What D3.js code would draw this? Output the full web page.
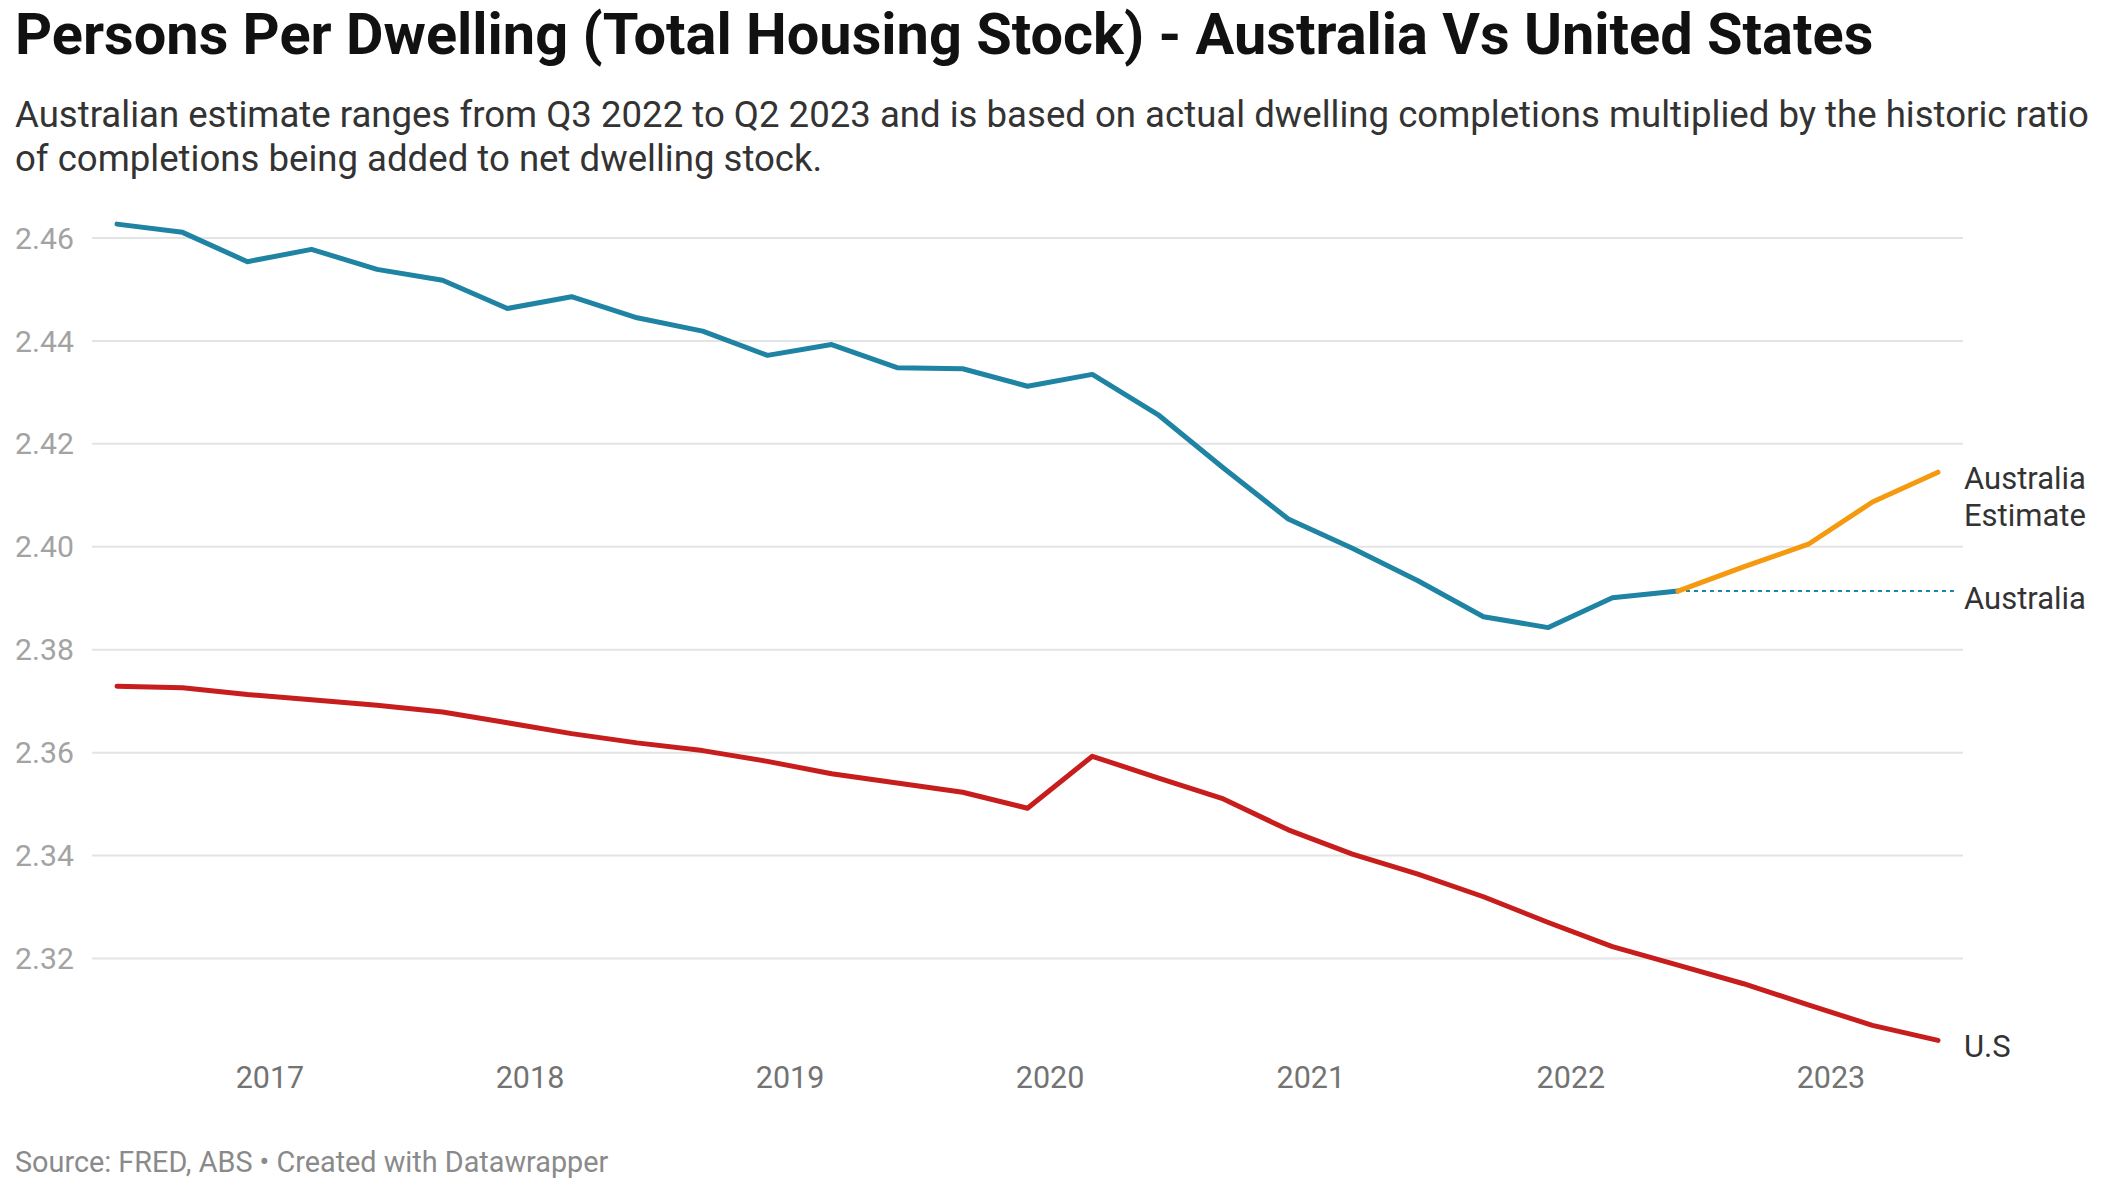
<!DOCTYPE html>
<html>
<head>
<meta charset="utf-8">
<script src="https://cdn.jsdelivr.net/npm/d3@7"></script>
<style>
  body { margin: 0; background: #fff; }
  svg text { font-family: Roboto, "Noto Sans", sans-serif; }
</style>
</head>
<body>
<div id="main"></div>
<script>
const width = 2104;
const height = 1189;

// quarter dates (year-month), Q2 2016 .. Q2 2023
const quarters = [
  "2016-06","2016-09","2016-12","2017-03","2017-06","2017-09","2017-12",
  "2018-03","2018-06","2018-09","2018-12","2019-03","2019-06","2019-09",
  "2019-12","2020-03","2020-06","2020-09","2020-12","2021-03","2021-06",
  "2021-09","2021-12","2022-03","2022-06","2022-09","2022-12","2023-03","2023-06"
];

const australia = [
  2.4626, 2.4610, 2.4553, 2.4577, 2.4538, 2.4517, 2.4462, 2.4485, 2.4444,
  2.4418, 2.4371, 2.4392, 2.4347, 2.4345, 2.4311, 2.4334, 2.4256, 2.4152,
  2.4053, 2.3996, 2.3933, 2.3863, 2.3842, 2.3900, 2.3913
];

// estimate starts at the last actual point (Q2 2022)
const australiaEstimate = [2.3913, 2.3960, 2.4004, 2.4086, 2.4144];

const unitedStates = [
  2.3728, 2.3725, 2.3712, 2.3702, 2.3691, 2.3678, 2.3657, 2.3636, 2.3618,
  2.3603, 2.3582, 2.3558, 2.3540, 2.3522, 2.3491, 2.3592, 2.3550, 2.3509,
  2.3449, 2.3402, 2.3363, 2.3319, 2.3269, 2.3222, 2.3186, 2.3150, 2.3109,
  2.3069, 2.3040
];

const yTicks = [2.32, 2.34, 2.36, 2.38, 2.40, 2.42, 2.44, 2.46];
const xTickYears = [2017, 2018, 2019, 2020, 2021, 2022, 2023];

const parseQ = d3.timeParse("%Y-%m");
const dates = quarters.map(parseQ);

const blue = "#1f83a3";
const orange = "#f5990f";
const red = "#c71e1d";

const svg = d3.select("#main").append("svg")
  .attr("width", width)
  .attr("height", height);

const x = d3.scaleTime()
  .domain([dates[0], dates[dates.length - 1]])
  .range([117, 1938]);

const y = d3.scaleLinear()
  .domain([2.32, 2.46])
  .range([958, 237.5]);

// title + subtitle
svg.append("text")
  .attr("x", 15).attr("y", 54)
  .style("font-size", "57.7px").style("font-weight", "bold").style("fill", "#111")
  .text("Persons Per Dwelling (Total Housing Stock) - Australia Vs United States");

const sub = svg.append("text")
  .style("font-size", "36.6px").style("fill", "#333");
sub.append("tspan").attr("x", 15).attr("y", 127)
  .text("Australian estimate ranges from Q3 2022 to Q2 2023 and is based on actual dwelling completions multiplied by the historic ratio");
sub.append("tspan").attr("x", 15).attr("y", 171)
  .text("of completions being added to net dwelling stock.");

// grid + y labels
const yAxis = d3.axisLeft(y)
  .tickValues(yTicks)
  .tickSize(-(1963 - 92))
  .tickFormat(d3.format(".2f"));

const gy = svg.append("g")
  .attr("transform", "translate(92,0)")
  .call(yAxis);
gy.select(".domain").remove();
gy.selectAll(".tick line").attr("stroke", "#e4e4e4").attr("stroke-width", 2);
gy.selectAll(".tick text")
  .attr("x", -77)
  .attr("text-anchor", "start")
  .attr("dy", "0.35em")
  .style("font-size", "30.2px")
  .style("fill", "#a3a3a3");

// x labels
const xAxis = d3.axisBottom(x)
  .tickValues(xTickYears.map(yr => new Date(yr, 0, 1)))
  .tickSize(0)
  .tickFormat(d3.timeFormat("%Y"));

const gx = svg.append("g")
  .attr("transform", "translate(0,1055)")
  .call(xAxis);
gx.select(".domain").remove();
gx.selectAll(".tick text")
  .attr("dy", 0)
  .attr("y", 33)
  .style("font-size", "30.5px")
  .style("fill", "#737373");

// lines
const line = d3.line()
  .x(d => x(d[0]))
  .y(d => y(d[1]));

const ausPts = australia.map((v, i) => [dates[i], v]);
const estStart = australia.length - 1;
const estPts = australiaEstimate.map((v, i) => [dates[estStart + i], v]);
const usPts = unitedStates.map((v, i) => [dates[i], v]);

// dotted connector from end of Australia line to its label
svg.append("line")
  .attr("x1", x(dates[estStart])).attr("x2", 1955)
  .attr("y1", y(australia[estStart])).attr("y2", y(australia[estStart]))
  .attr("stroke", blue).attr("stroke-width", 2)
  .attr("stroke-dasharray", "4,4");

svg.append("path").datum(usPts)
  .attr("d", line).attr("fill", "none")
  .attr("stroke", red).attr("stroke-width", 5)
  .attr("stroke-linejoin", "round").attr("stroke-linecap", "round");

svg.append("path").datum(ausPts)
  .attr("d", line).attr("fill", "none")
  .attr("stroke", blue).attr("stroke-width", 5)
  .attr("stroke-linejoin", "round").attr("stroke-linecap", "round");

svg.append("path").datum(estPts)
  .attr("d", line).attr("fill", "none")
  .attr("stroke", orange).attr("stroke-width", 5)
  .attr("stroke-linejoin", "round").attr("stroke-linecap", "round");

// series labels
const labelX = 1964;
const lab = svg.append("g").style("font-size", "31px").style("fill", "#333");

const estY = y(australiaEstimate[australiaEstimate.length - 1]);
lab.append("text").attr("x", labelX).attr("y", estY + 17).text("Australia");
lab.append("text").attr("x", labelX).attr("y", estY + 54).text("Estimate");

lab.append("text").attr("x", labelX).attr("y", y(australia[estStart]) + 18)
  .text("Australia");

lab.append("text").attr("x", labelX).attr("y", y(unitedStates[unitedStates.length - 1]) + 17)
  .text("U.S");

// source
svg.append("text")
  .attr("x", 15).attr("y", 1172)
  .style("font-size", "28.8px").style("fill", "#8a8a8a")
  .text("Source: FRED, ABS \u2022 Created with Datawrapper");
</script>
</body>
</html>
